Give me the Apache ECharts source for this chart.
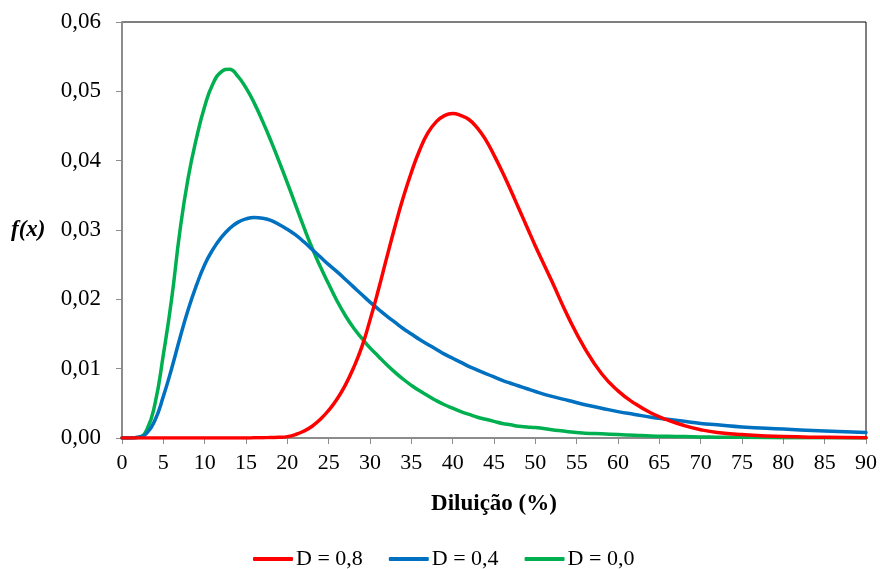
<!DOCTYPE html>
<html>
<head>
<meta charset="utf-8">
<script src="https://cdn.jsdelivr.net/npm/echarts@6/dist/echarts.min.js"></script>
<style>
html,body{margin:0;padding:0;background:#fff;}
#chart{width:880px;height:569px;}
</style>
</head>
<body>
<div id="chart"></div>
<script>
const xValues = [0,1,2,3,4,5,6,7,8,9,10,11,12,13,14,15,16,17,18,19,20,21,22,23,24,25,26,27,28,29,30,31,32,33,34,35,36,37,38,39,40,41,42,43,44,45,46,47,48,49,50,52,54,56,58,60,62,64,66,68,70,72,75,80,85,90];

const seriesNames = ['D = 0,8', 'D = 0,4', 'D = 0,0'];

const redD08 = [0,0,0,0,0,0,0,0,0,0,0,0,0,0,0,0.00001,0.00002,0.00004,0.00007,0.0001,0.0002,0.0005,0.0010,0.0017,0.0027,0.0040,0.0056,0.0076,0.0101,0.0131,0.0170,0.0213,0.0259,0.0304,0.0346,0.0383,0.0415,0.0440,0.0456,0.0465,0.0468,0.0465,0.0459,0.0447,0.0430,0.0408,0.0384,0.0358,0.0331,0.0304,0.0277,0.0226,0.0174,0.0129,0.0093,0.0068,0.0050,0.0036,0.0026,0.0018,0.0012,0.0008,0.0005,0.0002,0.0001,0.00004];

const blueD04 = [0,0,0.0001,0.0007,0.0026,0.0060,0.0100,0.0144,0.0185,0.0220,0.0250,0.0272,0.0289,0.0302,0.0311,0.0316,0.0318,0.0317,0.0314,0.0308,0.0301,0.0293,0.0283,0.0272,0.0261,0.0250,0.0240,0.0229,0.0218,0.0207,0.0196,0.0186,0.0176,0.0167,0.0158,0.0150,0.0142,0.0135,0.0128,0.0121,0.0115,0.0109,0.0103,0.0098,0.0093,0.0088,0.0083,0.0079,0.0075,0.0071,0.0067,0.0060,0.0054,0.0048,0.0043,0.0038,0.0034,0.0030,0.0027,0.0024,0.0021,0.0019,0.0016,0.0013,0.0010,0.0008];

const greenD00 = [0,0,0.0001,0.0012,0.0050,0.0120,0.0200,0.0298,0.0375,0.0432,0.0478,0.0511,0.0528,0.0532,0.0522,0.0505,0.0483,0.0457,0.0429,0.0399,0.0368,0.0336,0.0304,0.0274,0.0247,0.0222,0.0198,0.0177,0.0159,0.0144,0.0130,0.0118,0.0106,0.0095,0.0085,0.0076,0.0068,0.0061,0.0054,0.0048,0.0043,0.0038,0.0034,0.0030,0.0027,0.0024,0.0021,0.0019,0.0017,0.0016,0.0015,0.0012,0.0009,0.0007,0.0006,0.0005,0.0004,0.0003,0.00025,0.0002,0.00015,0.00012,0.0001,0.00005,0.00003,0.00001];

const colors = ['#FF0000', '#0070C0', '#00B050'];
const allY = [redD08, blueD04, greenD00];

const font = '"Liberation Serif", "Times New Roman", serif';

const chart = echarts.init(document.getElementById('chart'));
chart.setOption({
  animation: false,
  backgroundColor: '#ffffff',
  grid: {
    left: 122, right: 14, top: 22, bottom: 131,
    show: true, borderColor: '#000000', borderWidth: 1, backgroundColor: 'transparent'
  },
  legend: {
    top: 543,
    left: 248,
    itemWidth: 40,
    itemHeight: 4,
    itemGap: 26,
    icon: 'roundRect',
    textStyle: { fontFamily: font, fontSize: 22, color: '#000', padding: [0,0,0,-2] },
    data: seriesNames
  },
  xAxis: {
    type: 'value',
    min: 0, max: 90, interval: 5,
    name: 'Diluição (%)',
    nameLocation: 'middle',
    nameGap: 55,
    nameTextStyle: { fontFamily: font, fontSize: 23, fontWeight: 'bold', color: '#000' },
    axisLine: { show: true, lineStyle: { color: '#8c8c8c', width: 2 } },
    axisTick: { show: true, length: 6, lineStyle: { color: '#8c8c8c', width: 1 } },
    axisLabel: { fontFamily: font, fontSize: 22, color: '#000', margin: 14 },
    splitLine: { show: false }
  },
  yAxis: {
    type: 'value',
    min: 0, max: 0.06, interval: 0.01,
    axisLine: { show: true, lineStyle: { color: '#8c8c8c', width: 2 } },
    axisTick: { show: true, length: 6, lineStyle: { color: '#8c8c8c', width: 1 } },
    axisLabel: {
      fontFamily: font, fontSize: 23, color: '#000', margin: 21,
      formatter: v => v.toFixed(2).replace('.', ',')
    },
    splitLine: { show: false }
  },
  graphic: [{
    type: 'text',
    left: 11,
    top: 219,
    style: {
      text: 'f(x)',
      font: 'italic bold 23px ' + font,
      fill: '#000'
    }
  }],
  series: seriesNames.map((name, i) => ({
    name: name,
    type: 'line',
    data: xValues.map((x, j) => [x, allY[i][j]]),
    showSymbol: false,
    smooth: 0.5,
    lineStyle: { color: colors[i], width: 3.5, cap: 'round', join: 'round' },
    itemStyle: { color: colors[i] },
    z: 3 - i
  }))
});
</script>
</body>
</html>
